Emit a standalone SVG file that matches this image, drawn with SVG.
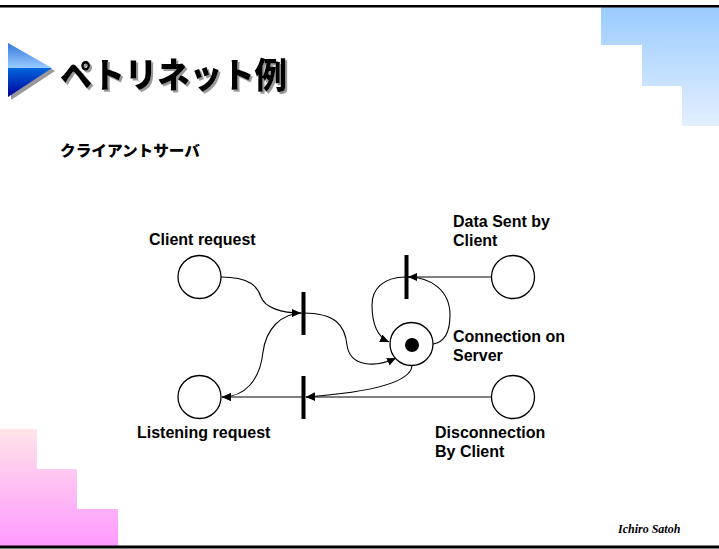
<svg xmlns="http://www.w3.org/2000/svg" width="719" height="549" viewBox="0 0 719 549">
<style>
.lbl{font-family:"Liberation Sans",Arial,sans-serif;font-weight:bold;font-size:16px;fill:#000}
.place{fill:#fff;stroke:#000;stroke-width:1.3}
.trans{fill:#000}
.arc{fill:none;stroke:#000;stroke-width:1.1}
.arr{marker-end:url(#ah)}
</style>
<defs>
<linearGradient id="gBlue" gradientUnits="userSpaceOnUse" x1="0" y1="7" x2="0" y2="126">
<stop offset="0" stop-color="#99CCFF"/><stop offset="1" stop-color="#E4EFFF"/>
</linearGradient>
<linearGradient id="gPink" gradientUnits="userSpaceOnUse" x1="0" y1="429" x2="0" y2="546">
<stop offset="0" stop-color="#FFE4E8"/><stop offset="1" stop-color="#FF99FF"/>
</linearGradient>
<linearGradient id="gTriTop" x1="0" y1="0" x2="0" y2="1">
<stop offset="0" stop-color="#3377DD"/><stop offset="1" stop-color="#99CCFF"/>
</linearGradient>
<linearGradient id="gTriBot" x1="0" y1="0" x2="0" y2="1">
<stop offset="0" stop-color="#0066DD"/><stop offset="1" stop-color="#000099"/>
</linearGradient>
<filter id="shadow" x="-5%" y="-20%" width="115%" height="150%">
<feDropShadow dx="2" dy="2" stdDeviation="0" flood-color="#999" flood-opacity="1"/>
</filter>
<marker id="ah" markerUnits="userSpaceOnUse" markerWidth="10" markerHeight="8" refX="9" refY="4" orient="auto">
<path d="M0,0 L9,4 L0,8 Z" fill="#000"/>
</marker>
</defs>
<rect width="719" height="549" fill="#fff"/>
<g id="decor">
<path d="M601,7 H719 V126 H682 V86 H642 V45 H601 Z" fill="url(#gBlue)"/>
<path d="M0,429 H37 V469 H77 V509 H118 V546 H0 Z" fill="url(#gPink)"/>
<line x1="0" y1="6.2" x2="719" y2="6.2" stroke="#000" stroke-width="2.5"/>
<line x1="0" y1="547" x2="719" y2="547" stroke="#000" stroke-width="3"/>
</g>
<g id="title">
<path d="M11,46 L55,71 L11,100 Z" fill="#999"/>
<path d="M8,43 L52,68 L8,68 Z" fill="url(#gTriTop)"/>
<path d="M8,68 L52,68 L8,97 Z" fill="url(#gTriBot)"/>
<text x="60" y="88" filter="url(#shadow)" font-family="'Noto Sans CJK JP',sans-serif" font-weight="900" font-size="35" fill="#000" textLength="227" lengthAdjust="spacingAndGlyphs">ペトリネット例</text>
</g>
<text id="subtitle" x="60" y="156" font-family="'Noto Sans CJK JP',sans-serif" font-weight="900" font-size="15" textLength="140" lengthAdjust="spacingAndGlyphs">クライアントサーバ</text>
<g id="connectors">
<path class="arc arr" d="M221,277 C250,277 258,287 261,297 C265,308 282,313 301,313"/>
<path class="arc arr" d="M303,313 C280,313 266,330 263,352 C260,380 245,397 222,397"/>
<path class="arc arr" d="M303,313 C335,313 345,325 347,345 C350,367 375,368 396,358"/>
<path class="arc arr" d="M412,366 C410,385 360,393 306,397"/>
<path class="arc arr" d="M491,397 L306,397"/>
<path class="arc arr" d="M303,397 L222,397"/>
<path class="arc arr" d="M491,277 L408,277"/>
<path class="arc arr" d="M406,277 C382,277 372,290 372,305 C372,325 378,337 389,342"/>
<path class="arc" d="M433,344 C446,342 450,330 450,315 C450,290 430,277 408,277"/>
</g>
<g id="client-request"><circle class="place" cx="199.5" cy="277" r="21.5"/><text class="lbl" x="149" y="245">Client request</text></g>
<g id="listening-request"><circle class="place" cx="199.5" cy="397" r="21.5"/><text class="lbl" x="137" y="438">Listening request</text></g>
<g id="connection-server"><circle class="place" cx="411.5" cy="344" r="21.5"/><circle cx="412" cy="345" r="7" fill="#000"/><text class="lbl" x="453" y="342">Connection on</text><text class="lbl" x="453" y="361">Server</text></g>
<g id="data-sent"><circle class="place" cx="513" cy="277" r="21.5"/><text class="lbl" x="453" y="227">Data Sent by</text><text class="lbl" x="453" y="246">Client</text></g>
<g id="disconnection"><circle class="place" cx="513" cy="397" r="21.5"/><text class="lbl" x="435" y="438">Disconnection</text><text class="lbl" x="435" y="457">By Client</text></g>
<g id="t1"><rect class="trans" x="301.5" y="292" width="4" height="43"/></g>
<g id="t2"><rect class="trans" x="404.5" y="255" width="4" height="44"/></g>
<g id="t3"><rect class="trans" x="301.5" y="376" width="4" height="43"/></g>
<text id="footer" x="618" y="533" font-family="'Liberation Serif',serif" font-style="italic" font-weight="bold" font-size="12">Ichiro Satoh</text>
</svg>
